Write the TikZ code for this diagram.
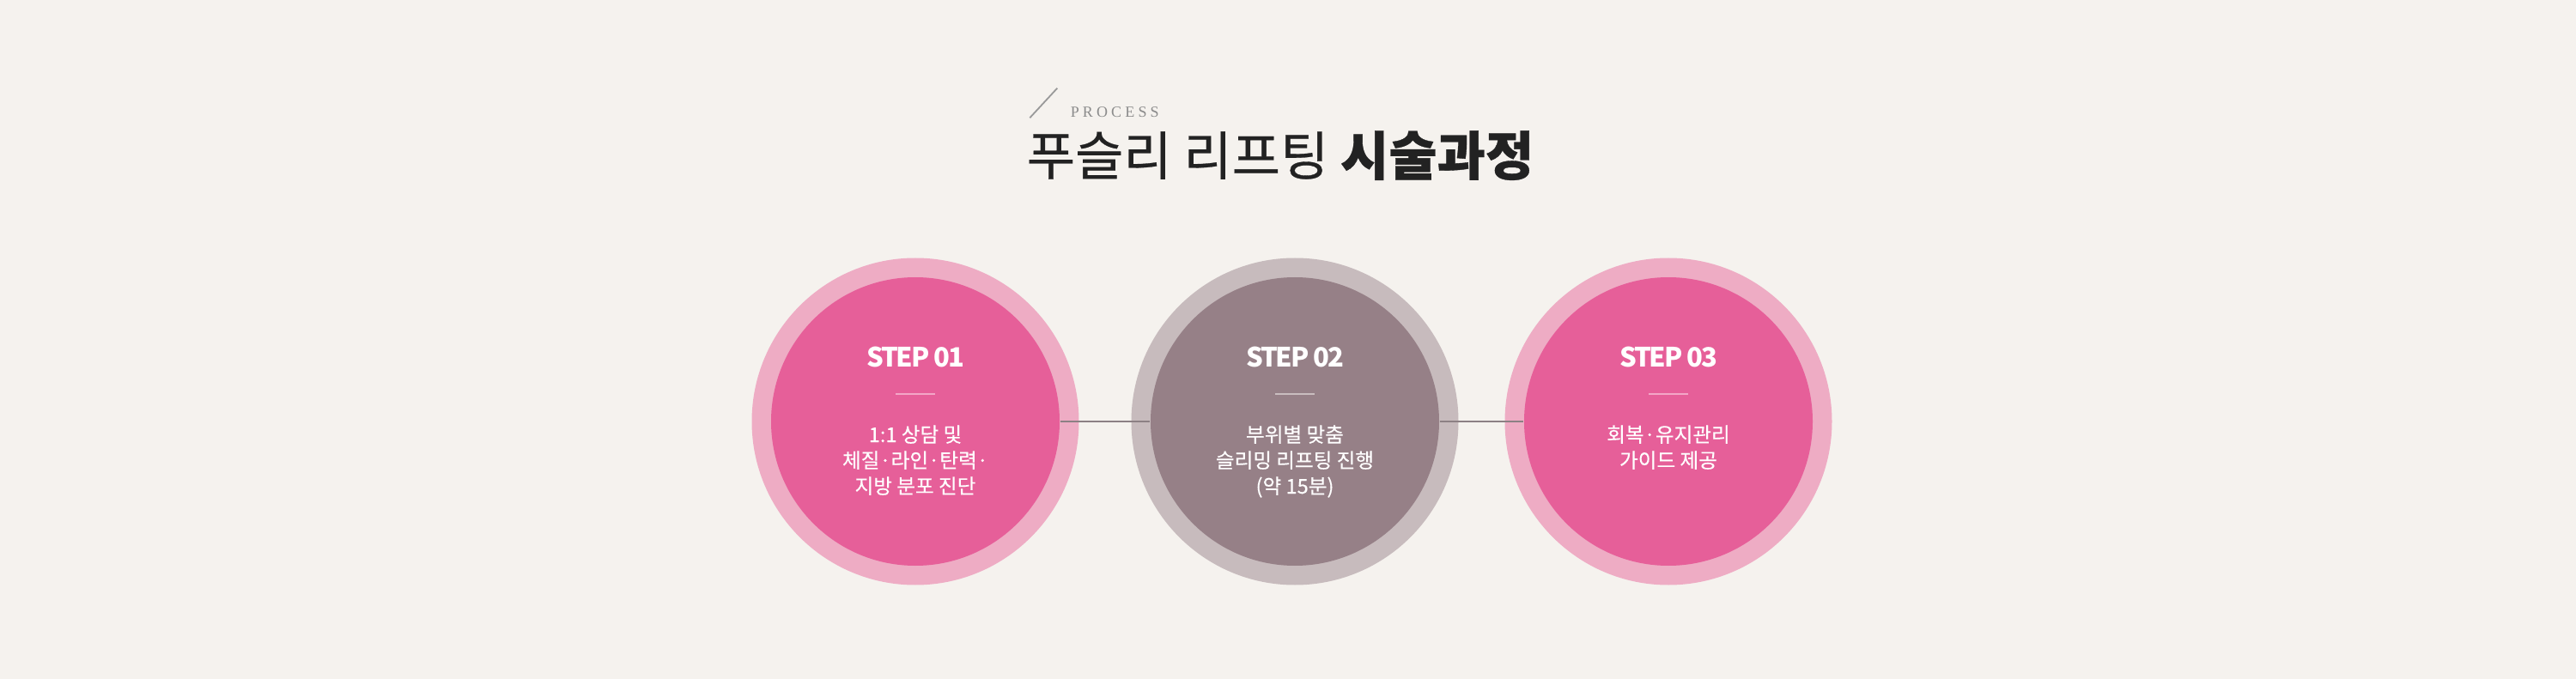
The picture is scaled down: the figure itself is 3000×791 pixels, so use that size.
\documentclass[tikz,border=0pt]{standalone}
\usepackage{fontspec}
\setmainfont{Noto Sans CJK KR}
\newfontfamily\procfont{Liberation Serif}[LetterSpace=23]
\newfontfamily\stepfont{Noto Sans CJK KR}[LetterSpace=-7]
\newfontfamily\bodyfont{Noto Sans CJK KR}[FakeBold=0.3]
\definecolor{bg}{HTML}{F5F2EE}
\definecolor{pinkout}{HTML}{EEACC4}
\definecolor{pinkin}{HTML}{E65F99}
\definecolor{grayout}{HTML}{C7BBBD}
\definecolor{grayin}{HTML}{968087}
\definecolor{pinkdash}{HTML}{F3A6C7}
\definecolor{graydash}{HTML}{C9BDBF}
\definecolor{conn}{HTML}{8C8084}
\definecolor{titlecol}{HTML}{222222}
\begin{document}
\begin{tikzpicture}[x=0.25pt,y=-0.25pt,
  outer/.style={circle,minimum size=95.25pt,inner sep=0pt,draw=none},
  inner/.style={circle,minimum size=84pt,inner sep=0pt,draw=none},
  steplabel/.style={anchor=base,text=white,inner sep=0pt,font=\stepfont\bfseries\fontsize{7.75pt}{9pt}\selectfont},
  bodytext/.style={anchor=base,text=white,inner sep=0pt,font=\bodyfont\fontsize{5.9pt}{7.5pt}\selectfont},
  dashline/.style={line width=0.5pt},
  connector/.style={draw=conn,line width=0.45pt}]
\fill[bg] (0,0) rectangle (3000,791);
\useasboundingbox (0,0) rectangle (3000,791);
% title
\coordinate (s1) at (1199.3,137.3);
\coordinate (s2) at (1231.3,102.7);
\draw[color=black!40,line width=0.45pt] (s1) -- (s2);
\node[anchor=base west,inner sep=0pt,text=black!45,font=\procfont\fontsize{4.5pt}{5pt}\selectfont] (proc) at (1246,136.7) {PROCESS};
\node[anchor=base west,inner sep=0pt,text=titlecol,font=\fontsize{15.3pt}{17pt}\selectfont] (title) at (1195,204) {{\addfontfeature{FakeBold=0.5}푸슬리 리프팅} \textbf{\addfontfeature{FakeBold=0.6}시술과정}};
% circles
\node[outer,fill=pinkout] (o1) at (1066,491) {};
\node[outer,fill=grayout] (o2) at (1508,491) {};
\node[outer,fill=pinkout] (o3) at (1943,491) {};
\node[inner,fill=pinkin] (i1) at (1066,491) {};
\node[inner,fill=grayin] (i2) at (1508,491) {};
\node[inner,fill=pinkin] (i3) at (1943,491) {};
\draw[connector] (i1.east) -- (i2.west);
\draw[connector] (i2.east) -- (i3.west);
% texts
\node[steplabel] (t1) at (1066,427.7) {STEP 01};
\node[steplabel] (t2) at (1508,427.7) {STEP 02};
\node[steplabel] (t3) at (1943,427.7) {STEP 03};
\coordinate (d1a) at (1043,459); \coordinate (d1b) at (1089,459);
\coordinate (d2a) at (1485,459); \coordinate (d2b) at (1531,459);
\coordinate (d3a) at (1920,459); \coordinate (d3b) at (1966,459);
\draw[dashline,draw=pinkdash] (d1a) -- (d1b);
\draw[dashline,draw=graydash] (d2a) -- (d2b);
\draw[dashline,draw=pinkdash] (d3a) -- (d3b);
\node[bodytext] (b1a) at (1066,515) {1:1 상담 및};
\node[bodytext] (b1b) at (1066,545) {체질·라인·탄력·};
\node[bodytext] (b1c) at (1066,575) {지방 분포 진단};
\node[bodytext] (b2a) at (1508,515) {부위별 맞춤};
\node[bodytext] (b2b) at (1508,545) {슬리밍 리프팅 진행};
\node[bodytext] (b2c) at (1508,575) {(약 15분)};
\node[bodytext] (b3a) at (1943,515) {회복·유지관리};
\node[bodytext] (b3b) at (1943,545) {가이드 제공};
\end{tikzpicture}
\end{document}
